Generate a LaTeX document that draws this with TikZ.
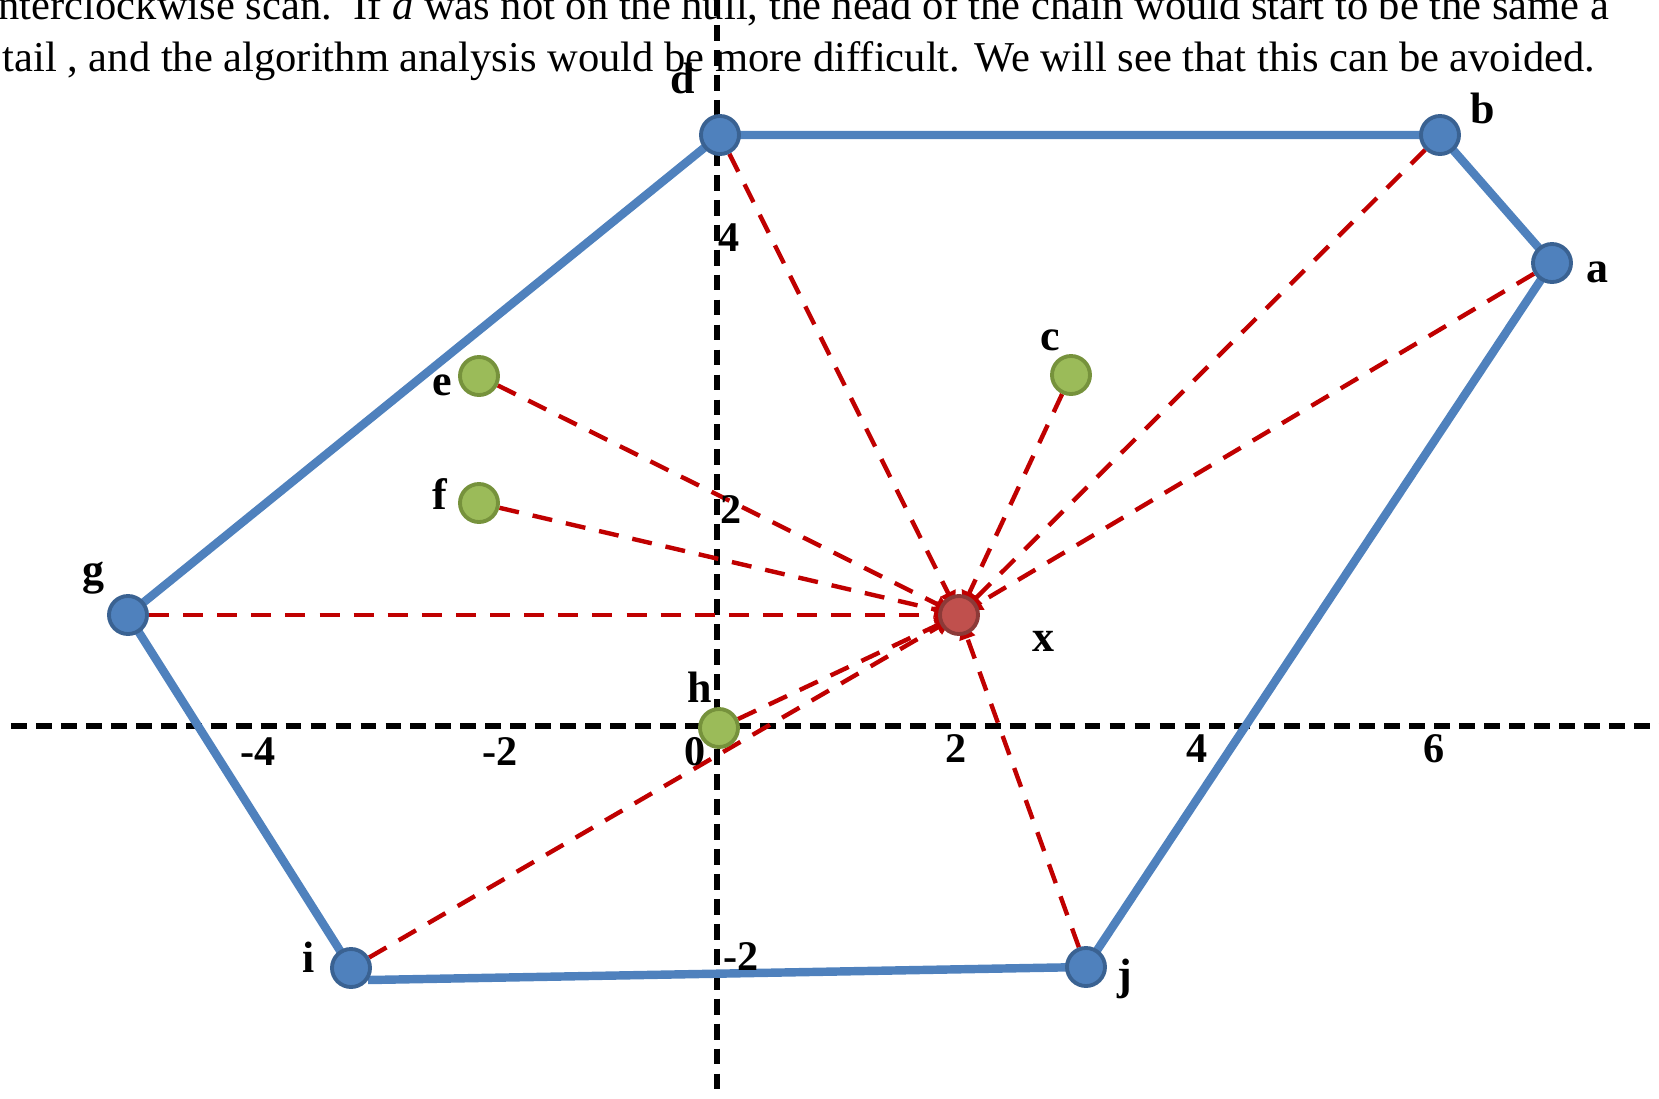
\documentclass[tikz,border=0pt]{standalone}
\usepackage{fontspec}
\setmainfont{Liberation Serif}
\usetikzlibrary{arrows.meta,backgrounds}
\definecolor{hullblue}{RGB}{79,129,189}
\definecolor{hullrim}{RGB}{58,98,146}
\definecolor{ptgreen}{RGB}{155,187,89}
\definecolor{greenrim}{RGB}{118,146,60}
\definecolor{ptred}{RGB}{192,80,77}
\definecolor{redrim}{RGB}{140,58,56}
\definecolor{raycol}{RGB}{192,0,0}

\begin{document}
\begin{tikzpicture}[x=0.01cm,y=-0.01cm,
  every node/.style={font=\fontsize{12}{14}\selectfont},
  lbl/.style={font=\fontsize{12.5}{14}\selectfont\bfseries},
  tick/.style={font=\fontsize{12}{14}\selectfont\bfseries},
  pagetxt/.style={anchor=base west,inner sep=0pt,font=\fontsize{12.1}{14}\selectfont},
  hullpt/.style={circle,draw=hullrim,fill=hullblue,line width=1.1pt,minimum size=0.38cm,inner sep=0pt},
  inpt/.style={hullpt,draw=greenrim,fill=ptgreen},
  qpt/.style={hullpt,draw=redrim,fill=ptred},
  hulledge/.style={hullblue,line width=2.4pt},
  ray/.style={raycol,line width=1.25pt,dash pattern=on 5.7pt off 4pt,shorten >=2.5pt,-{Triangle[length=4.5pt,width=4.5pt]}},
  axis/.style={black,line width=1.6pt,dash pattern=on 4.5pt off 2.6pt}]
\useasboundingbox (0,0) rectangle (1659,1099);
\clip (0,0) rectangle (1659,1099);
% text of the page behind the figure
\node[pagetxt] (txtA) at (-2,19) {nterclockwise scan.\ \ If \textit{a} was not on the hull,\ the head of the chain would start to be the same a};
\node[pagetxt] (txtB) at (2,71) {tail , and the algorithm analysis would be more difficult. We will see that this can be avoided.};
% points
\node[hullpt] (d) at (720,135) {};
\node[hullpt] (b) at (1440,135) {};
\node[hullpt] (a) at (1552,263) {};
\node[hullpt] (j) at (1086,967) {};
\node[hullpt] (i) at (351,968) {};
\node[hullpt] (g) at (128,615) {};
\node[inpt] (c) at (1071,375) {};
\node[inpt] (e) at (479,376) {};
\node[inpt] (f) at (479,503) {};
\node[inpt] (h) at (719,728) {};
\node[qpt] (x) at (959,615) {};
\begin{pgfonlayer}{background}
\coordinate (xl) at (11,726);
\coordinate (xr) at (1659,726);
\coordinate (yt) at (717,0);
\coordinate (yb) at (717,1090);
\draw[axis] (xl) -- (xr);
\draw[axis] (yt) -- (yb);
% hull
\draw[hulledge] (d.center) -- (b.center) -- (a.center) -- (j.center);
\draw[hulledge] (j.center) -- (i.-35);
\draw[hulledge] (i.center) -- (g.center) -- (d.center);
% rays to x, tips under the red point
\draw[ray] (d) -- (x.center);
\draw[ray] (b) -- (x.center);
\draw[ray] (a) -- (x.center);
\draw[ray] (c) -- (x.center);
\draw[ray] (e) -- (x.center);
\draw[ray] (f) -- (x.center);
\draw[ray] (g) -- (x.center);
\draw[ray] (h) -- (x.center);
\draw[ray] (i) -- (x.center);
\draw[ray] (j) -- (x.center);
\end{pgfonlayer}
% labels
\node[lbl] (dl) at (683,78) {d};
\node[lbl] (bl) at (1483,108) {b};
\node[lbl] (al) at (1597,272) {a};
\node[lbl] (cl) at (1050,340) {c};
\node[lbl] (el) at (442,385) {e};
\node[lbl] (fl) at (440,494) {f};
\node[lbl] (gl) at (93,578) {g};
\node[lbl] (hl) at (700,687) {h};
\node[lbl] (xlb) at (1043,641) {x};
\node[lbl] (il) at (309,957) {i};
\node[lbl] (jl) at (1125,979) {j};
% ticks
\node[tick] (tm4) at (258,752) {-4};
\node[tick] (tm2) at (500,752) {-2};
\node[tick] (t0) at (695,752) {0};
\node[tick] (t2) at (956,749) {2};
\node[tick] (t4) at (1197,749) {4};
\node[tick] (t6) at (1434,749) {6};
\node[tick] (u4) at (729,238) {4};
\node[tick] (u2) at (731,510) {2};
\node[tick] (um2) at (741,957) {-2};
\end{tikzpicture}
\end{document}
